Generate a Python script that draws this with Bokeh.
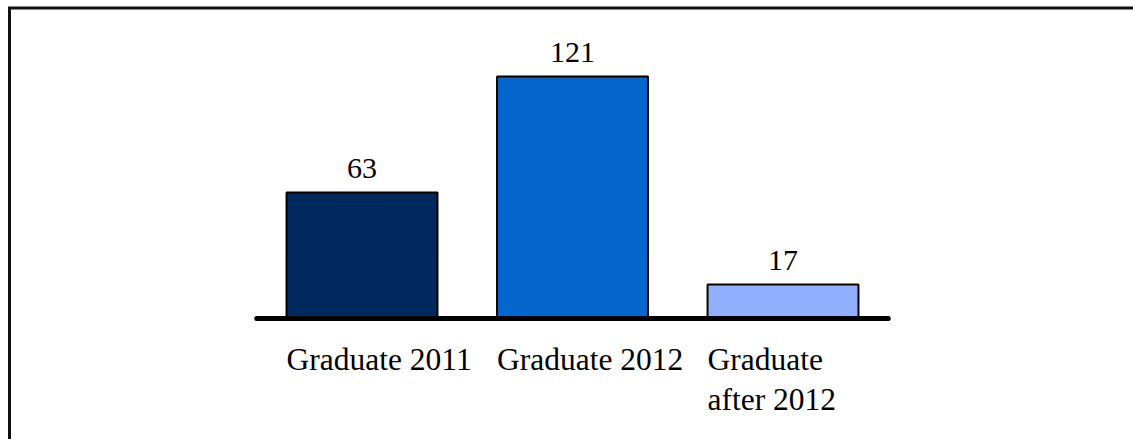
from bokeh.plotting import figure
from bokeh.models import Range1d
from bokeh.embed import file_html
from bokeh.resources import INLINE
from bokeh.core.properties import value

# Data
categories = ["Graduate 2011", "Graduate 2012", "Graduate\nafter 2012"]
counts = [63, 121, 17]
bar_colors = ["#002A5E", "#0566CE", "#90B0FF"]

# Canvas and scale set-up (pixels)
W, H = 1133, 439
PX_PER_CAT = 210.5      # horizontal distance between category centres
PX_PER_UNIT = 2.0       # vertical pixels per count
FIRST_CENTER_PX = 361.5
BASELINE_PX = 318
BAR_WIDTH = 0.717
FONT = value("Liberation Serif")

x_start = -FIRST_CENTER_PX / PX_PER_CAT
x_end = x_start + W / PX_PER_CAT
y_end = BASELINE_PX / PX_PER_UNIT
y_start = y_end - H / PX_PER_UNIT

idx = list(range(len(categories)))

p = figure(
    width=W, height=H,
    x_range=Range1d(x_start, x_end), y_range=Range1d(y_start, y_end),
    output_backend="svg", toolbar_location=None,
    x_axis_location=None, y_axis_location=None,
    min_border=0, background_fill_color="white", border_fill_color="white",
)
p.grid.visible = False
p.outline_line_color = None

# Frame line along the left and top of the panel
bx = x_start + 9 / PX_PER_CAT
by = y_end - 7.5 / PX_PER_UNIT
p.line(x=[bx, bx, x_end + 1], y=[y_start - 1, by, by],
       line_width=3, line_color="#111111", line_join="miter")

# Bars
p.vbar(x=idx, top=counts, bottom=0, width=BAR_WIDTH,
       fill_color=bar_colors, line_color="black", line_width=2)

# Baseline under the bars
p.line(x=[-0.5, len(categories) - 0.5], y=[0, 0],
       line_width=5, line_color="black", line_cap="round")

# Value labels above each bar
p.text(x=idx, y=counts, text=[str(c) for c in counts],
       text_align="center", text_baseline="bottom", y_offset=-15,
       text_font=FONT, text_font_size="30px", text_color="black")

# Category labels under the baseline, left-aligned with the bars
p.text(x=[i - BAR_WIDTH / 2 for i in idx], y=[0] * len(idx), text=categories,
       text_align="left", text_baseline="top", y_offset=23,
       text_font=FONT, text_font_size="31.5px", text_color="black",
       text_line_height=1.15)

open("out.html", "w").write(file_html(p, INLINE))
